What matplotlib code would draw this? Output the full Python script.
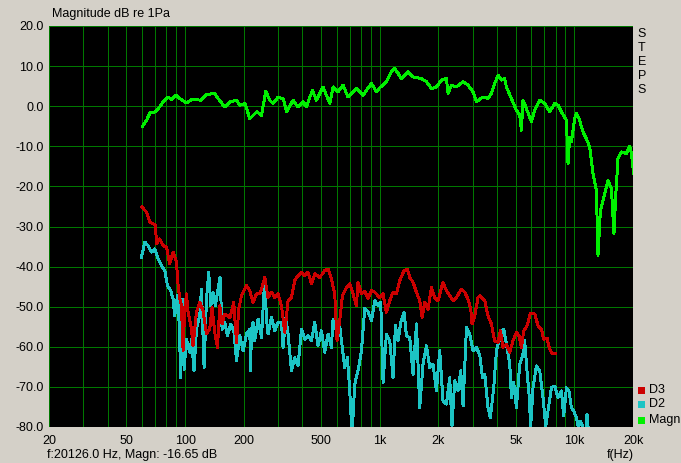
import matplotlib
matplotlib.use("Agg")
import matplotlib.pyplot as plt

plt.rcParams['font.family'] = ['Liberation Sans', 'DejaVu Sans']

# ---------------- data ----------------
magn_f = [60.4, 63.4, 66, 70, 74, 77, 82, 85, 90, 94,
          102, 108, 121, 129, 142, 148, 160, 170, 184, 191,
          203, 215, 233, 247, 260, 272, 283, 300, 319, 332,
          359, 380, 404, 420, 451, 473, 511, 554, 576, 611,
          648, 687, 759, 821, 907, 962, 1000, 1082, 1148, 1194,
          1242, 1293, 1398, 1483, 1638, 1738, 1844, 1955, 2075, 2201,
          2243, 2335, 2477, 2679, 2841, 3015, 3139, 3393, 3599, 3747,
          3896, 4051, 4217, 4385, 4474, 4748, 5036, 5237, 5343, 5445,
          5670, 6015, 6255, 6636, 7038, 7467, 7922, 8238, 8576, 9098,
          9271, 9460, 9651, 10036, 10240, 10560, 11070, 11525, 11985, 12460,
          12970, 13220, 13600, 14030, 14880, 15490, 15970, 16290, 16740, 17430,
          18490, 19230, 19620, 20126]
magn_db = [-5.0, -3.5, -1.7, -1.4, -0.2, 1.1, 2.3, 1.7, 2.75, 1.9,
           0.8, 1.7, 1.5, 2.9, 3.2, 1.9, -0.2, 1.1, 1.5, 0.25,
           0.7, -3.1, -1.4, -2.25, 3.8, 1.5, 0.7, 2.2, 1.9, -1.4,
           1.5, -0.2, 1.1, -0.2, 4.0, 1.5, 4.8, 0.7, 4.8, 3.6,
           5.25, 2.3, 4.4, 2.75, 5.7, 3.6, 4.6, 6.1, 8.6, 9.4,
           8.2, 6.9, 8.6, 7.3, 6.9, 6.1, 4.4, 4.8, 6.5, 6.9,
           3.2, 5.25, 4.8, 6.1, 5.25, 3.6, 1.1, 2.3, 1.9, 3.2,
           5.7, 7.75, 6.5, 6.9, 4.8, 1.9, -1.0, -2.25, -6.0, 1.5,
           -0.6, -3.9, -1.0, 1.5, 0.7, -1.4, 0.7, 0.25, -1.4, -3.5,
           -14.3, -7.7, -8.9, -3.1, -1.8, -3.1, -6.4, -8.1, -10.2, -16.8,
           -21.0, -37.25, -26.0, -23.5, -18.5, -20.6, -31.8, -22.7, -13.1, -11.4,
           -11.8, -10.0, -11.8, -16.65]

d3_f = [60.1, 63.4, 66.0, 68.5, 70.5, 71.3, 74.1, 77.1, 80.3, 83.4,
        86.8, 90.3, 92.1, 94.0, 95.8, 97.7, 99.6, 101.7, 103.6, 107.9,
        109.9, 112.1, 114.4, 119, 123.7, 128.8, 133.9, 137.6, 142, 146.7,
        150.8, 154.9, 160, 170, 177.9, 183.7, 188.7, 194.9, 206.8, 215,
        223.5, 232.7, 241.9, 251.6, 256.7, 266.9, 277.9, 288.9, 300.4, 312.7,
        325.2, 338.1, 351.9, 365.9, 380.5, 396.2, 412, 428.3, 445.9, 463.7,
        491.8, 521.7, 542.5, 564.7, 587.2, 603.5, 623, 643.2, 674.5, 701.4,
        729.3, 759.2, 773.5, 805.4, 837.5, 870.8, 906.7, 942.6, 1000, 1040,
        1082, 1126, 1170, 1218, 1267, 1333, 1388, 1426, 1483, 1544,
        1605, 1650, 1703, 1771, 1843, 1916, 1993, 2114, 2201, 2288,
        2379, 2477, 2628, 2733, 2841, 2934, 2980, 3076, 3198, 3264,
        3463, 3599, 3747, 3896, 4051, 4168, 4298, 4474, 4654, 4838,
        5036, 5194, 5343, 5491, 5709, 5943, 6255, 6505, 6769, 6956,
        7234, 7467, 7709, 8017]
d3_db = [-25.2, -26.4, -28.9, -29.3, -29.75, -34.3, -33.1, -34.75, -35.2, -39.3,
         -36.4, -38.9, -44.75, -48.1, -49.75, -61.0, -50.6, -46.8, -51.4, -55.6,
         -59.75, -55.6, -51.4, -48.9, -51.0, -56.8, -55.6, -50.2, -56.4, -60.2,
         -49.75, -54.3, -51.8, -52.7, -48.9, -58.9, -50.6, -47.25, -44.75, -46.0,
         -49.0, -46.8, -46.8, -44.3, -42.7, -47.7, -46.4, -47.7, -46.8, -49.75,
         -56.4, -48.5, -47.7, -43.5, -42.25, -41.4, -42.25, -41.4, -44.3, -41.8,
         -42.7, -41.0, -40.6, -43.1, -46.8, -58.5, -53.5, -47.25, -45.2, -44.3,
         -46.8, -49.75, -43.9, -46.8, -46.2, -47.9, -46.0, -46.4, -47.7, -46.8,
         -51.4, -48.5, -46.4, -46.8, -43.5, -41.0, -40.6, -42.7, -43.9, -46.4,
         -48.5, -52.7, -48.9, -50.6, -45.2, -47.7, -48.5, -43.9, -46.0, -47.25,
         -48.5, -47.7, -45.6, -46.4, -48.1, -50.6, -54.3, -52.25, -47.7, -47.25,
         -48.5, -52.25, -54.3, -58.5, -58.9, -56.0, -60.2, -59.3, -61.4, -58.5,
         -56.4, -57.25, -60.2, -56.0, -54.75, -51.7, -51.8, -54.75, -55.6, -58.1,
         -57.8, -60.6, -61.7, -61.7]

d2_f = [59.7, 62.1, 64.6, 67.2, 70, 72.7, 75.6, 78.7, 81.2, 84.5,
        86.8, 88.5, 91.4, 93.2, 95, 97, 98.8, 101.7, 105.7, 107.9,
        111.2, 114.4, 119, 121.4, 125.2, 128.8, 132.3, 135.5, 139.2, 143.2,
        146.7, 151.3, 154.9, 160, 165.2, 171.7, 178.5, 183.7, 191, 198.6,
        206.8, 215, 217, 219.3, 223.5, 228, 237.1, 247, 256.7, 261.9,
        266.9, 277.9, 288.9, 300.4, 312.7, 318.7, 329.1, 338.1, 351.9, 365.9,
        380.5, 396.2, 412, 428.3, 445.9, 463.7, 482.1, 501.9, 521.7, 542.5,
        564.7, 575.6, 594.3, 618, 635.8, 661, 682.4, 701.4, 720.6, 744,
        773.5, 805.4, 837.5, 870.8, 906.7, 942.6, 980, 1012, 1040, 1082,
        1126, 1170, 1204, 1242, 1282, 1333, 1372, 1426, 1483, 1544,
        1605, 1669, 1738, 1807, 1878, 1955, 2033, 2114, 2201, 2288,
        2351, 2428, 2524, 2606, 2679, 2789, 2900, 3015, 3139, 3264,
        3370, 3463, 3599, 3701, 3850, 3977, 4101, 4233, 4335, 4474,
        4654, 4748, 4878, 5036, 5237, 5445, 5556, 5670, 5846, 5965,
        6129, 6380, 6636, 6899, 7123, 7318, 7619, 7922, 8238, 8576,
        8810, 9098, 9382, 9651, 9917, 10240, 10435, 10735, 10993, 11350,
        11610, 11985]
d2_db = [-37.7, -33.9, -34.75, -36.4, -35.6, -38.1, -39.75, -41.0, -44.75, -46.0,
         -48.1, -52.25, -47.25, -53.9, -67.7, -48.1, -65.6, -58.1, -61.4, -58.1,
         -66.0, -55.6, -52.25, -45.6, -65.2, -48.1, -41.4, -49.75, -46.4, -49.75,
         -46.4, -42.7, -55.6, -53.9, -57.25, -54.3, -56.4, -63.5, -57.25, -61.0,
         -56.8, -55.6, -66.0, -56.0, -53.9, -58.5, -53.1, -57.7, -42.7, -53.1,
         -56.8, -52.7, -56.0, -53.9, -53.9, -60.2, -52.7, -56.8, -66.0, -62.7,
         -64.75, -55.6, -58.1, -57.25, -58.5, -53.9, -59.75, -56.0, -61.4, -56.8,
         -60.2, -53.1, -55.6, -53.5, -58.5, -65.2, -62.7, -71.0, -82.0, -69.3,
         -66.0, -61.0, -50.4, -51.2, -53.5, -48.5, -49.75, -48.9, -68.9, -56.8,
         -58.5, -67.7, -54.75, -58.5, -53.9, -51.4, -57.25, -57.7, -66.8, -54.3,
         -75.2, -64.3, -59.75, -65.2, -64.3, -71.0, -61.0, -73.5, -74.3, -67.7,
         -79.75, -68.5, -71.0, -66.0, -74.75, -55.2, -56.8, -61.0, -60.2, -62.0,
         -67.7, -66.8, -75.2, -77.7, -70.2, -61.0, -58.5, -56.0, -55.6, -59.3,
         -64.3, -72.7, -68.9, -75.2, -64.3, -61.8, -58.5, -64.3, -71.8, -79.75,
         -70.2, -64.75, -66.0, -72.7, -79.75, -76.0, -70.2, -69.75, -72.7, -71.0,
         -77.25, -70.2, -71.0, -75.2, -76.0, -77.7, -79.75, -78.5, -79.75, -85.0,
         -76.8, -85.0]

x_grid = [20, 30, 40, 50, 60, 70, 80, 90,
          100, 200, 300, 400, 500, 600, 700, 800, 900,
          1000, 2000, 3000, 4000, 5000, 6000, 7000, 8000, 9000,
          10000, 20000]
x_labeled = {20: '20', 50: '50', 100: '100', 200: '200', 500: '500',
             1000: '1k', 2000: '2k', 5000: '5k', 10000: '10k', 20000: '20k'}
y_ticks = [20, 10, 0, -10, -20, -30, -40, -50, -60, -70, -80]

# ---------------- figure ----------------
BG = '#d4d0c8'
fig = plt.figure(figsize=(6.81, 4.63), dpi=100, facecolor=BG)
ax = fig.add_axes([49 / 681, 1 - 427 / 463, (633 - 49) / 681, (427 - 26) / 463])
ax.set_facecolor('black')
ax.set_xscale('log')
ax.set_xlim(20, 20000)
ax.set_ylim(-80, 20)

ax.set_xticks(x_grid)
ax.set_xticklabels([x_labeled.get(v, '') for v in x_grid])
ax.xaxis.set_minor_locator(matplotlib.ticker.NullLocator())
ax.set_yticks(y_ticks)
ax.set_yticklabels(['%.1f' % v for v in y_ticks])
ax.tick_params(axis='both', length=0, labelsize=9, colors='black', pad=4)
ax.tick_params(axis='x', pad=6)
ax.grid(True, color='#007800', linewidth=0.72, antialiased=False)
ax.set_axisbelow(True)
for s in ax.spines.values():
    s.set_visible(False)

ax.plot(d2_f, d2_db, color='#1cc4c4', lw=1.4, antialiased=False)
ax.plot(d3_f, d3_db, color='#cc0000', lw=1.4, antialiased=False)
ax.plot(magn_f, magn_db, color='#00f000', lw=1.4, antialiased=False)

# texts
fig.text(52 / 681, 1 - 14 / 463, 'Magnitude dB re 1Pa', fontsize=9, va='center', ha='left')
fig.text(47 / 681, 1 - 455 / 463, 'f:20126.0 Hz, Magn: -16.65 dB', fontsize=9, va='center', ha='left')
fig.text(620 / 681, 1 - 455 / 463, 'f(Hz)', fontsize=9, va='center', ha='center')
for i, ch in enumerate('STEPS'):
    fig.text(642 / 681, 1 - (34 + 14 * i) / 463, ch, fontsize=9, va='center', ha='center')

legend_items = [('D3', '#cc0000', 390), ('D2', '#1cc4c4', 404), ('Magn', '#00f000', 420)]
for name, col, yy in legend_items:
    fig.patches.append(matplotlib.patches.Rectangle((638 / 681, 1 - (yy + 3.5) / 463),
                                                    7 / 681, 7 / 463, transform=fig.transFigure,
                                                    facecolor=col, edgecolor='none'))
    fig.text(649 / 681, 1 - yy / 463, name, fontsize=9, va='center', ha='left')

fig.savefig('out.png', dpi=100, facecolor=BG)
